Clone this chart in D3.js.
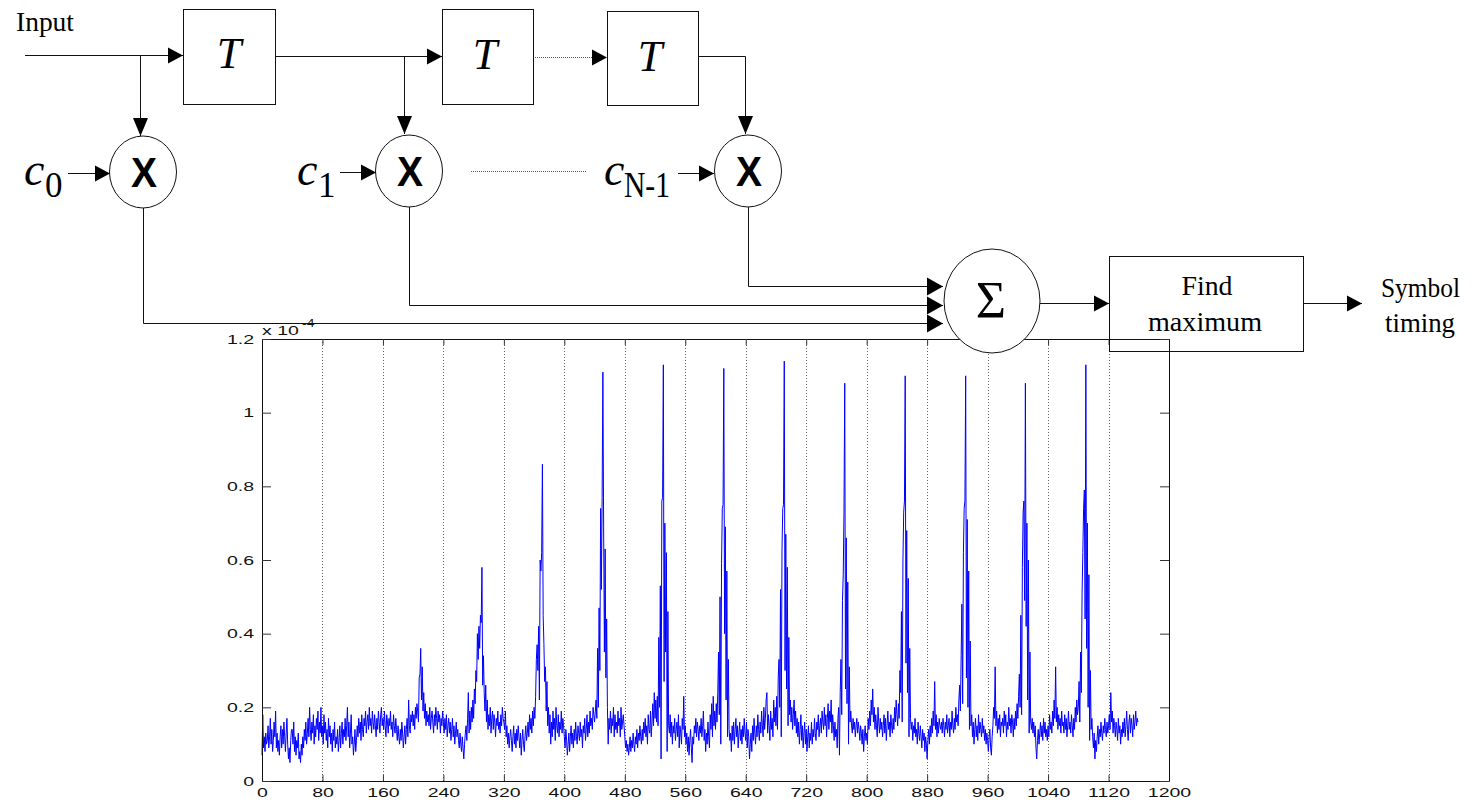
<!DOCTYPE html>
<html><head><meta charset="utf-8">
<script src="https://cdn.jsdelivr.net/npm/d3@7/dist/d3.min.js"></script>
<style>html,body{margin:0;padding:0;background:#fff;}svg{display:block;}</style>
</head><body>
<svg id="c" width="1477" height="800"></svg>
<script>
// Correlator output magnitude (units of 1e-4), one value per sample index 0..1159
const magnitude = [
0.07,0.18,0.09,0.12,0.08,0.13,0.10,0.11,0.15,0.09,0.12,0.17,0.10,0.14,0.08,0.11,0.16,0.12,0.19,0.09,
0.13,0.08,0.11,0.07,0.12,0.15,0.09,0.14,0.10,0.16,0.12,0.08,0.13,0.17,0.10,0.06,0.09,0.05,0.11,0.14,
0.14,0.10,0.16,0.08,0.12,0.07,0.11,0.09,0.13,0.06,0.08,0.05,0.10,0.07,0.12,0.09,0.14,0.11,0.16,0.10,
0.13,0.17,0.12,0.20,0.14,0.11,0.16,0.13,0.18,0.10,0.15,0.12,0.17,0.14,0.19,0.11,0.16,0.13,0.20,0.12,
0.15,0.10,0.18,0.13,0.16,0.11,0.14,0.09,0.17,0.12,0.15,0.10,0.13,0.08,0.14,0.11,0.16,0.09,0.12,0.10,
0.14,0.08,0.11,0.15,0.09,0.13,0.16,0.10,0.14,0.12,0.17,0.11,0.15,0.20,0.12,0.16,0.09,0.13,0.18,0.10,
0.12,0.07,0.10,0.14,0.08,0.11,0.15,0.12,0.17,0.13,0.16,0.11,0.18,0.14,0.12,0.17,0.15,0.19,0.13,0.16,
0.18,0.14,0.20,0.15,0.17,0.13,0.19,0.16,0.14,0.18,0.15,0.12,0.17,0.14,0.19,0.16,0.13,0.18,0.20,0.15,
0.17,0.14,0.19,0.15,0.12,0.18,0.16,0.13,0.17,0.15,0.19,0.14,0.16,0.12,0.18,0.15,0.13,0.17,0.14,0.11,
0.15,0.12,0.10,0.14,0.11,0.16,0.13,0.09,0.12,0.15,0.10,0.14,0.17,0.12,0.22,0.15,0.13,0.18,0.16,0.19,
0.15,0.18,0.14,0.20,0.17,0.21,0.19,0.16,0.28,0.29,0.36,0.22,0.31,0.19,0.24,0.17,0.21,0.15,0.19,0.16,
0.18,0.15,0.20,0.14,0.17,0.19,0.16,0.13,0.18,0.15,0.20,0.17,0.14,0.19,0.16,0.18,0.13,0.17,0.15,0.19,
0.16,0.13,0.17,0.14,0.18,0.12,0.15,0.17,0.13,0.16,0.11,0.14,0.17,0.12,0.15,0.10,0.13,0.16,0.12,0.14,
0.11,0.09,0.13,0.10,0.08,0.12,0.09,0.06,0.10,0.13,0.15,0.11,0.17,0.24,0.13,0.19,0.14,0.20,0.16,0.22,
0.17,0.25,0.21,0.30,0.27,0.40,0.33,0.42,0.36,0.45,0.43,0.58,0.26,0.34,0.24,0.19,0.26,0.16,0.22,0.14,
0.18,0.15,0.20,0.13,0.17,0.19,0.14,0.18,0.16,0.12,0.17,0.15,0.19,0.14,0.16,0.13,0.18,0.15,0.20,0.17,
0.16,0.14,0.19,0.12,0.15,0.10,0.13,0.09,0.12,0.14,0.11,0.08,0.12,0.15,0.10,0.13,0.09,0.14,0.11,0.15,
0.12,0.09,0.13,0.07,0.11,0.14,0.10,0.08,0.12,0.15,0.11,0.13,0.16,0.12,0.18,0.14,0.17,0.13,0.19,0.15,
0.20,0.17,0.23,0.33,0.37,0.30,0.42,0.22,0.60,0.57,0.62,0.86,0.45,0.37,0.27,0.31,0.19,0.27,0.15,0.20,
0.13,0.18,0.10,0.16,0.12,0.19,0.14,0.17,0.11,0.20,0.15,0.13,0.18,0.12,0.16,0.14,0.19,0.13,0.17,0.15,
0.12,0.09,0.14,0.11,0.07,0.10,0.13,0.08,0.12,0.15,0.10,0.13,0.09,0.14,0.11,0.16,0.12,0.10,0.15,0.13,
0.11,0.16,0.12,0.14,0.09,0.15,0.13,0.17,0.11,0.14,0.18,0.12,0.16,0.13,0.19,0.15,0.17,0.14,0.20,0.18,
0.16,0.19,0.22,0.17,0.36,0.20,0.47,0.30,0.74,0.52,0.77,1.11,0.69,0.35,0.63,0.28,0.44,0.20,0.10,0.17,
0.14,0.19,0.13,0.17,0.15,0.20,0.12,0.18,0.14,0.16,0.13,0.19,0.15,0.17,0.12,0.20,0.14,0.16,0.18,0.15,
0.12,0.09,0.11,0.08,0.10,0.07,0.09,0.12,0.08,0.11,0.09,0.13,0.10,0.08,0.12,0.10,0.14,0.09,0.13,0.11,
0.15,0.12,0.10,0.14,0.11,0.16,0.13,0.17,0.12,0.15,0.10,0.18,0.14,0.13,0.19,0.12,0.16,0.21,0.15,0.24,
0.17,0.22,0.16,0.23,0.15,0.39,0.20,0.53,0.06,0.76,0.77,1.13,0.27,0.70,0.35,0.62,0.08,0.46,0.15,0.13,
0.18,0.12,0.16,0.10,0.15,0.13,0.17,0.11,0.14,0.16,0.12,0.18,0.09,0.15,0.13,0.10,0.17,0.14,0.23,0.12,
0.15,0.10,0.13,0.08,0.12,0.07,0.11,0.14,0.09,0.05,0.12,0.10,0.15,0.13,0.17,0.12,0.16,0.14,0.11,0.15,
0.13,0.17,0.12,0.15,0.19,0.11,0.14,0.08,0.13,0.10,0.16,0.12,0.09,0.18,0.14,0.21,0.12,0.23,0.15,0.19,
0.14,0.21,0.16,0.24,0.35,0.18,0.50,0.10,0.59,0.74,0.75,1.12,0.40,0.69,0.22,0.57,0.12,0.33,0.14,0.11,
0.13,0.08,0.15,0.11,0.16,0.10,0.14,0.17,0.12,0.15,0.09,0.13,0.16,0.11,0.14,0.10,0.15,0.12,0.17,0.13,
0.11,0.16,0.09,0.14,0.12,0.06,0.10,0.13,0.08,0.15,0.11,0.17,0.13,0.10,0.15,0.12,0.18,0.14,0.11,0.16,
0.13,0.19,0.15,0.12,0.20,0.14,0.17,0.22,0.24,0.13,0.18,0.15,0.11,0.19,0.14,0.17,0.12,0.22,0.16,0.20,
0.15,0.23,0.14,0.28,0.33,0.20,0.52,0.12,0.63,0.74,0.75,1.14,0.30,0.67,0.25,0.58,0.15,0.39,0.18,0.22,
0.16,0.20,0.14,0.18,0.22,0.15,0.19,0.13,0.17,0.12,0.16,0.10,0.14,0.18,0.11,0.15,0.09,0.13,0.16,0.10,
0.14,0.08,0.12,0.15,0.09,0.13,0.11,0.16,0.10,0.14,0.12,0.17,0.13,0.11,0.16,0.14,0.18,0.12,0.15,0.17,
0.13,0.19,0.16,0.14,0.20,0.15,0.18,0.12,0.17,0.21,0.14,0.19,0.16,0.22,0.13,0.18,0.15,0.11,0.16,0.12,
0.14,0.09,0.17,0.20,0.07,0.24,0.33,0.18,0.49,0.56,0.73,1.08,0.25,0.66,0.21,0.54,0.10,0.31,0.16,0.19,
0.15,0.13,0.17,0.14,0.16,0.12,0.15,0.17,0.13,0.16,0.14,0.11,0.15,0.13,0.10,0.14,0.08,0.12,0.15,0.11,
0.13,0.10,0.17,0.14,0.19,0.15,0.22,0.18,0.25,0.16,0.20,0.14,0.18,0.15,0.12,0.20,0.16,0.13,0.17,0.14,
0.16,0.12,0.15,0.18,0.13,0.17,0.11,0.15,0.19,0.14,0.16,0.12,0.18,0.15,0.13,0.17,0.14,0.20,0.16,0.22,
0.18,0.15,0.21,0.17,0.30,0.24,0.46,0.16,0.60,0.73,0.76,1.10,0.32,0.68,0.24,0.55,0.12,0.36,0.17,0.14,
0.16,0.11,0.15,0.13,0.17,0.12,0.14,0.10,0.16,0.13,0.11,0.15,0.12,0.09,0.14,0.11,0.13,0.08,0.12,0.10,
0.06,0.11,0.14,0.10,0.15,0.12,0.17,0.13,0.19,0.15,0.27,0.14,0.18,0.12,0.16,0.13,0.17,0.15,0.14,0.16,
0.13,0.17,0.15,0.12,0.16,0.14,0.18,0.13,0.15,0.17,0.12,0.16,0.14,0.19,0.15,0.13,0.17,0.14,0.20,0.16,
0.18,0.15,0.22,0.26,0.19,0.34,0.48,0.21,0.62,0.74,0.76,1.10,0.28,0.71,0.20,0.57,0.14,0.38,0.15,0.18,
0.12,0.16,0.10,0.14,0.17,0.12,0.15,0.11,0.18,0.13,0.16,0.14,0.12,0.17,0.13,0.15,0.11,0.14,0.10,0.13,
0.11,0.08,0.12,0.14,0.09,0.07,0.12,0.15,0.20,0.17,0.31,0.15,0.19,0.13,0.17,0.14,0.18,0.12,0.16,0.15,
0.17,0.13,0.19,0.15,0.18,0.12,0.16,0.14,0.20,0.15,0.17,0.13,0.18,0.16,0.12,0.17,0.14,0.19,0.15,0.21,
0.17,0.23,0.29,0.20,0.45,0.18,0.58,0.73,0.76,0.49,1.08,0.42,0.70,0.22,0.60,0.13,0.35,0.16,0.14,0.17,
0.13,0.16,0.12,0.15,0.09,0.06,0.11,0.14,0.10,0.13,0.16,0.12,0.15,0.11,0.17,0.13,0.16,0.12,0.14,0.11,
0.15,0.12,0.18,0.14,0.16,0.13,0.19,0.15,0.22,0.17,0.31,0.16,0.20,0.14,0.18,0.15,0.17,0.13,0.19,0.15,
0.16,0.13,0.18,0.14,0.17,0.12,0.15,0.19,0.14,0.16,0.13,0.18,0.15,0.12,0.17,0.14,0.20,0.16,0.22,0.18,
0.20,0.27,0.16,0.35,0.24,0.51,0.62,0.74,0.79,0.44,1.13,0.36,0.70,0.20,0.56,0.11,0.30,0.14,0.17,0.12,
0.09,0.13,0.06,0.11,0.08,0.12,0.15,0.10,0.14,0.12,0.16,0.13,0.11,0.15,0.13,0.17,0.14,0.12,0.16,0.13,
0.15,0.18,0.14,0.24,0.16,0.19,0.13,0.17,0.15,0.12,0.16,0.14,0.11,0.17,0.13,0.15,0.10,0.14,0.12,0.16,
0.13,0.17,0.12,0.15,0.19,0.14,0.11,0.16,0.18,0.13,0.17,0.15,0.12,0.18,0.14,0.16,0.19,0.15,0.17,0.16
];
const xTicks = [0,80,160,240,320,400,480,560,640,720,800,880,960,1040,1120,1200];
const yTicks = [0,0.2,0.4,0.6,0.8,1,1.2];
const yTickLabels = ["0","0.2","0.4","0.6","0.8","1","1.2"];
const xDomain = [0,1200];
const yDomain = [0,1.2];
const exponentLabel = ["x 10", "-4"];
const diagramTexts = {input:"Input", delay:"T", mult:"X", sum:"\u03A3", find:["Find","maximum"], out:["Symbol","timing"]};

const svg = d3.select("#c");
svg.append("rect").attr("width",1477).attr("height",800).attr("fill","#fff");

const L=262,R=1169,T=339,B=781;
const x = d3.scaleLinear().domain(xDomain).range([L,R]);
const y = d3.scaleLinear().domain(yDomain).range([B,T]);

const plot = svg.append("g");
plot.append("g").selectAll("line").data(xTicks.slice(1,-1)).join("line")
  .attr("x1",d=>Math.round(x(d))+0.5).attr("x2",d=>Math.round(x(d))+0.5)
  .attr("y1",T).attr("y2",B)
  .attr("stroke","#666").attr("stroke-width",1).attr("stroke-dasharray","1,2");

const line = d3.line().x((d,i)=>x(i)).y(d=>y(d));
plot.append("path").datum(magnitude).attr("d",line)
  .attr("fill","none").attr("stroke","#0000ff").attr("stroke-width",1).attr("stroke-linejoin","miter");

function styleAxis(g){
  g.selectAll("path.domain").attr("stroke","#111").attr("stroke-width",1);
  g.selectAll(".tick line").attr("stroke","#333").attr("stroke-width",1);
  g.selectAll("text").attr("font-family","'Liberation Sans', Arial, sans-serif")
    .attr("font-size",13).attr("fill","#111");
}
const ax = plot.append("g").attr("transform",`translate(0,${B})`)
  .call(d3.axisBottom(x).tickValues(xTicks).tickSize(-6).tickSizeOuter(0).tickPadding(7).tickFormat(d3.format("d")));
styleAxis(ax);
const axT = plot.append("g").attr("transform",`translate(0,${T})`)
  .call(d3.axisTop(x).tickValues(xTicks).tickSize(-6).tickSizeOuter(0).tickFormat(""));
styleAxis(axT);
const ayL = plot.append("g").attr("transform",`translate(${L},0)`)
  .call(d3.axisLeft(y).tickValues(yTicks).tickSize(-9).tickSizeOuter(0).tickPadding(8).tickFormat((d,i)=>yTickLabels[i]));
styleAxis(ayL);
const ayR = plot.append("g").attr("transform",`translate(${R},0)`)
  .call(d3.axisRight(y).tickValues(yTicks).tickSize(-9).tickSizeOuter(0).tickFormat(""));
styleAxis(ayR);
plot.selectAll(".tick text").each(function(){
  const w=this.getComputedTextLength();
  if(w>0){ d3.select(this).attr("textLength",w*1.5).attr("lengthAdjust","spacingAndGlyphs"); }
});
const ex = plot.append("text").attr("x",L).attr("y",335)
  .attr("font-family","'Liberation Sans', Arial, sans-serif").attr("font-size",13).attr("fill","#111")
  .text(exponentLabel[0]);
{ const w=ex.node().getComputedTextLength(); ex.attr("textLength",w*1.5).attr("lengthAdjust","spacingAndGlyphs"); }
const ex2 = plot.append("text").attr("x",L+40).attr("y",327)
  .attr("font-family","'Liberation Sans', Arial, sans-serif").attr("font-size",10).attr("fill","#111")
  .text(exponentLabel[1]);
{ const w=ex2.node().getComputedTextLength(); ex2.attr("textLength",w*1.4).attr("lengthAdjust","spacingAndGlyphs"); }

// ---------- block diagram ----------
const dg = svg.append("g").attr("stroke","#111").attr("stroke-width",1).attr("fill","none");
function seg(d, dashed){ const p=dg.append("path").attr("d",d); if(dashed) p.attr("stroke-dasharray","1,1").attr("stroke","#555"); return p; }
function arrowR(tx,ty,len=15,hw=8){ svg.append("path").attr("d",`M${tx},${ty} L${tx-len},${ty-hw} L${tx-len},${ty+hw} Z`).attr("fill","#000"); }
function arrowD(tx,ty,len=18,hw=7.5){ svg.append("path").attr("d",`M${tx},${ty} L${tx-hw},${ty-len} L${tx+hw},${ty-len} Z`).attr("fill","#000"); }

seg("M25,55.5 H183"); arrowR(183,55.5);
seg("M140.5,55.5 V136"); arrowD(140.5,136);
seg("M68,173.5 H110"); arrowR(110,173.5);
seg("M143.5,208 V323.5 H943"); arrowR(943,323.5,16,9);
seg("M275,56.5 H442"); arrowR(442,56.5);
seg("M404.5,56.5 V134"); arrowD(404.5,134);
seg("M340,172.5 H376"); arrowR(376,172.5);
seg("M409.5,207 V305.5 H943"); arrowR(943,305.5,16,9);
seg("M533,57.5 H594",true); arrowR(607,57.5);
seg("M698,56.5 H745.5 V134"); arrowD(745.5,134);
seg("M678,173.5 H714"); arrowR(714,173.5);
seg("M748.5,207 V286.5 H943"); arrowR(943,286.5,16,9);
seg("M471,171.5 H587",true);
seg("M1040,303.5 H1109"); arrowR(1109,303.5);
seg("M1303,303.5 H1362"); arrowR(1362,303.5);

dg.append("rect").attr("x",183.5).attr("y",9.5).attr("width",92).attr("height",95);
dg.append("rect").attr("x",442.5).attr("y",9.5).attr("width",91).attr("height",95);
dg.append("rect").attr("x",607.5).attr("y",11.5).attr("width",91).attr("height",94);
dg.append("rect").attr("x",1109.5).attr("y",256.5).attr("width",194).attr("height",95);

const circ = [[143,172],[409,171],[748,171]];
circ.forEach(c=>dg.append("ellipse").attr("cx",c[0]).attr("cy",c[1]).attr("rx",33.5).attr("ry",36).attr("fill","#fff"));
dg.append("ellipse").attr("cx",992).attr("cy",301).attr("rx",48).attr("ry",52).attr("fill","#fff");

const serif="'Liberation Serif','DejaVu Serif','Times New Roman',serif", sans="'Liberation Sans',Arial,sans-serif";
function txt(s,xx,yy,size,opts={}){
  const t=svg.append("text").attr("x",xx).attr("y",yy).attr("font-family",opts.family||serif)
    .attr("font-size",size).attr("fill","#000").attr("text-anchor",opts.anchor||"start").text(s);
  if(opts.italic) t.attr("font-style","italic");
  if(opts.bold) t.attr("font-weight","bold");
  if(opts.len) t.attr("textLength",opts.len).attr("lengthAdjust","spacingAndGlyphs");
  return t;
}
txt(diagramTexts.input,16,31,27,{len:58});
txt(diagramTexts.delay,229,68,44,{italic:true,anchor:"middle"});
txt(diagramTexts.delay,485,69,44,{italic:true,anchor:"middle"});
txt(diagramTexts.delay,650,71,44,{italic:true,anchor:"middle"});
circ.forEach(c=>txt(diagramTexts.mult,c[0]+1,c[1]+15,42,{family:sans,anchor:"middle",len:26,bold:true}));
txt("c",24,185,46,{italic:true});
txt("0",45,197,35);
txt("c",297,185,46,{italic:true});
txt("1",318,197,35);
txt("c",604,185,46,{italic:true});
txt("N-1",624,197,35,{len:46});
txt(diagramTexts.sum,991,318,52,{anchor:"middle"});
txt(diagramTexts.find[0],1207,295,28,{anchor:"middle",len:51});
txt(diagramTexts.find[1],1205,331,28,{anchor:"middle",len:114});
txt(diagramTexts.out[0],1381,297,27,{len:79});
txt(diagramTexts.out[1],1385,332,27,{len:70});
</script>
</body></html>
